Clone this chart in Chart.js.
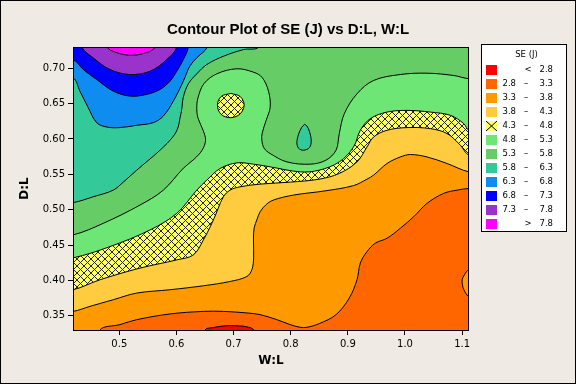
<!DOCTYPE html>
<html>
<head>
<meta charset="utf-8">
<script src="https://cdn.jsdelivr.net/npm/chart.js@4.4.1/dist/chart.umd.min.js"></script>
<style>
    body { margin: 0; background: #efebe4; }
    canvas { display: block; }
</style>
</head>
<body>
<canvas id="chart" width="576" height="384"></canvas>
<script>
// axis limits and ticks
const xMin = 0.419, xMax = 1.112
const yMin = 0.33, yMax = 0.73
const xTicks = [0.5, 0.6, 0.7, 0.8, 0.9, 1.0, 1.1]
const yTicks = [0.35, 0.40, 0.45, 0.50, 0.55, 0.60, 0.65, 0.70]

// contour levels, bands low -> high (legend order)
const levels = [2.8, 3.3, 3.8, 4.3, 4.8, 5.3, 5.8, 6.3, 6.8, 7.3, 7.8]
const bandColors = ['#ff0000', '#ff6600', '#ff9900', '#ffcc40', 'hatch', '#6ee675',
    '#66cc66', '#33c999', '#0e8cf0', '#0000ff', '#9933cc', '#ff00ff']
const legendTitle = 'SE (J)'

// contour lines, [W:L, D:L]
const line28 = [[0.650, 0.330], [0.665, 0.3335], [0.680, 0.3355], [0.694, 0.3362], [0.710, 0.3358], [0.723, 0.3345], [0.735, 0.330]]
const line33 = [[0.466, 0.330], [0.501, 0.3376], [0.5305, 0.3446], [0.5888, 0.3527], [0.6472, 0.3563], [0.6822, 0.3563],
    [0.7232, 0.3541], [0.7465, 0.3517], [0.7758, 0.3446], [0.7991, 0.3376], [0.8166, 0.3338], [0.8284, 0.3338],
    [0.8499, 0.339], [0.8793, 0.3517], [0.9025, 0.3752], [0.916, 0.401], [0.9218, 0.4245], [0.9335, 0.4408],
    [0.948, 0.4527], [0.9685, 0.4597], [0.9918, 0.4738], [1.0152, 0.4901], [1.0386, 0.509], [1.0677, 0.5231],
    [1.0912, 0.5277], [1.112, 0.5301]]
const line33b = [[1.112, 0.4151], [1.104, 0.408], [1.1, 0.401], [1.1005, 0.394], [1.103, 0.3869], [1.112, 0.3775]]
const line38 = [[0.419, 0.3563], [0.4487, 0.3634], [0.4895, 0.3728], [0.5305, 0.3822], [0.5888, 0.3869], [0.6472, 0.3925],
    [0.694, 0.3986], [0.7232, 0.4056], [0.732, 0.4151], [0.7351, 0.432], [0.7348, 0.4573], [0.736, 0.4742],
    [0.7413, 0.4869], [0.7465, 0.4972], [0.757, 0.5073], [0.7698, 0.5137], [0.8049, 0.5207], [0.8616, 0.5268],
    [0.91, 0.5341], [0.9335, 0.5432], [0.9451, 0.5489], [0.9685, 0.5653], [0.9918, 0.5746], [1.0094, 0.578],
    [1.0386, 0.5746], [1.0737, 0.5653], [1.112, 0.5535]]
const line43 = [[0.419, 0.3869], [0.4662, 0.401], [0.5363, 0.4175], [0.6006, 0.4291], [0.6297, 0.4362], [0.6472, 0.4573],
    [0.6647, 0.4855], [0.6822, 0.5183], [0.694, 0.5277], [0.7115, 0.5324], [0.7465, 0.5362], [0.7991, 0.539],
    [0.8499, 0.5432], [0.885, 0.5513], [0.916, 0.5676], [0.9335, 0.5887], [0.9451, 0.6028], [0.9685, 0.6123],
    [1.0036, 0.6161], [1.0444, 0.6146], [1.0737, 0.6076], [1.097, 0.5911], [1.112, 0.577]]
const line43b = [[0.6952, 0.6644], [0.7115, 0.6601], [0.7185, 0.6479], [0.7115, 0.6355], [0.6952, 0.6301],
    [0.6782, 0.6348], [0.6717, 0.6479], [0.6782, 0.6601], [0.6952, 0.6644]]
const line48 = [[0.419, 0.432], [0.4837, 0.4479], [0.5538, 0.4714], [0.6006, 0.4949], [0.6356, 0.5277], [0.6531, 0.5418],
    [0.6764, 0.5583], [0.7057, 0.5662], [0.7348, 0.5644], [0.7641, 0.5606], [0.8166, 0.5535], [0.8499, 0.5559],
    [0.885, 0.5676], [0.91, 0.5887], [0.9218, 0.6123], [0.9393, 0.6287], [0.9685, 0.638], [1.0036, 0.6404],
    [1.0444, 0.638], [1.0795, 0.6334], [1.1028, 0.6217], [1.112, 0.6123]]
const line53 = [[0.419, 0.4644], [0.472, 0.4808], [0.5363, 0.5066], [0.5771, 0.5277], [0.6121, 0.5587], [0.6309, 0.5714],
    [0.6449, 0.5841], [0.651, 0.5982], [0.6467, 0.6123], [0.6379, 0.6292], [0.6356, 0.6432], [0.6379, 0.6587],
    [0.6484, 0.6784], [0.6707, 0.6921], [0.7057, 0.6992], [0.7348, 0.6944], [0.75, 0.6869], [0.7611, 0.6676],
    [0.7641, 0.6451], [0.757, 0.6263], [0.75, 0.608], [0.7495, 0.5982], [0.7535, 0.5869], [0.7641, 0.5794],
    [0.7933, 0.5676], [0.8341, 0.5644], [0.8616, 0.57], [0.8793, 0.5841], [0.885, 0.6076], [0.8938, 0.6358],
    [0.916, 0.6639], [0.9451, 0.6827], [0.9918, 0.6911], [1.0386, 0.693], [1.0853, 0.6897], [1.112, 0.6851]]
const line58 = [[0.419, 0.5101], [0.4544, 0.5183], [0.4895, 0.5277], [0.507, 0.539], [0.5305, 0.5559], [0.5713, 0.5841],
    [0.5946, 0.6038], [0.6029, 0.6165], [0.6064, 0.6301], [0.6093, 0.642], [0.6121, 0.6592], [0.6209, 0.678],
    [0.6356, 0.6921], [0.6531, 0.7052], [0.6822, 0.7169], [0.7173, 0.7263], [0.7436, 0.73]]
const line58b = [[0.8242, 0.6207], [0.8284, 0.6183], [0.8329, 0.6104], [0.8359, 0.5972], [0.8329, 0.5879], [0.8224, 0.5841],
    [0.8137, 0.5869], [0.8108, 0.5949], [0.8137, 0.6066], [0.8193, 0.6165], [0.8242, 0.6207]]
const line63 = [[0.419, 0.6865], [0.4311, 0.6676], [0.4457, 0.6442], [0.4604, 0.6231], [0.4779, 0.6169], [0.5012, 0.6161],
    [0.5305, 0.6193], [0.5596, 0.6231], [0.5771, 0.6324], [0.5946, 0.6535], [0.6121, 0.6817], [0.6239, 0.7035],
    [0.6361, 0.7151], [0.6537, 0.73]]
const line68 = [[0.419, 0.7123], [0.4369, 0.6982], [0.4604, 0.6841], [0.4895, 0.6676], [0.5187, 0.6606], [0.548, 0.663],
    [0.5713, 0.67], [0.5888, 0.6817], [0.6006, 0.6958], [0.6121, 0.7123], [0.6209, 0.73]]
const line73 = [[0.435, 0.73], [0.4544, 0.7146], [0.4837, 0.6982], [0.5187, 0.6911], [0.5538, 0.6958], [0.5831, 0.7123], [0.6006, 0.73]]
const line78 = [[0.479, 0.73], [0.4925, 0.7228], [0.5187, 0.7183], [0.545, 0.7214], [0.5626, 0.73]]

// crosshatch fill for the 4.3 - 4.8 band
function makeHatch(ctx) {
    const c = document.createElement('canvas')
    c.width = 7
    c.height = 7
    const g = c.getContext('2d')
    g.fillStyle = '#ffff66'
    g.fillRect(0, 0, 7, 7)
    g.fillStyle = '#222'
    for (let i = 0; i < 7; i++) {
        g.fillRect(i, i, 1, 1)
        g.fillRect(6 - i, i, 1, 1)
    }
    return ctx.createPattern(c, 'repeat')
}

const canvas = document.getElementById('chart')
const hatch = makeHatch(canvas.getContext('2d'))
const colors = bandColors.map(c => c === 'hatch' ? hatch : c)

// polygons are closed outside the plot area so only the contour part shows
const pad = 0.03
const corner = {
    bl: {x: xMin - pad, y: yMin - pad}, br: {x: xMax + pad, y: yMin - pad},
    tr: {x: xMax + pad, y: yMax + pad}, tl: {x: xMin - pad, y: yMax + pad}
}
function toPts(line) {
    return line.map(p => ({x: p[0], y: p[1]}))
}
function outside(p, side) {
    if (side === 'left') return {x: xMin - pad, y: p[1]}
    if (side === 'right') return {x: xMax + pad, y: p[1]}
    if (side === 'top') return {x: p[0], y: yMax + pad}
    return {x: p[0], y: yMin - pad}
}
function region(line, from, to, corners) {
    return [outside(line[0], from), ...toPts(line), outside(line[line.length - 1], to), ...corners.map(c => corner[c])]
}

// painted bottom to top
const layers = [
    {data: [corner.bl, corner.br, corner.tr, corner.tl], color: colors[1], tension: 0},
    {data: region(line28, 'bottom', 'bottom', []), color: colors[0]},
    {data: region(line33, 'bottom', 'right', ['tr', 'tl', 'bl']), color: colors[2]},
    {data: region(line33b, 'right', 'right', []), color: colors[2]},
    {data: region(line38, 'left', 'right', ['tr', 'tl']), color: colors[3]},
    {data: region(line43, 'left', 'right', ['tr', 'tl']), color: colors[4]},
    {data: region(line48, 'left', 'right', ['tr', 'tl']), color: colors[5]},
    {data: toPts(line43b), color: colors[4]},
    {data: region(line53, 'left', 'right', ['tr', 'tl']), color: colors[6]},
    {data: region(line58, 'left', 'top', ['tl']), color: colors[7]},
    {data: toPts(line58b), color: colors[7]},
    {data: region(line63, 'left', 'top', ['tl']), color: colors[8]},
    {data: region(line68, 'left', 'top', ['tl']), color: colors[9]},
    {data: region(line73, 'top', 'top', []), color: colors[10]},
    {data: region(line78, 'top', 'top', []), color: colors[11]}
]

const datasets = layers.map((l, i) => ({
    data: l.data,
    backgroundColor: l.color,
    borderColor: '#000',
    borderWidth: 1,
    fill: 'shape',
    tension: l.tension === undefined ? 0.35 : l.tension,
    pointRadius: 0,
    pointHoverRadius: 0,
    clip: 0,
    order: layers.length - i,
    yAxisID: 'y'
}))

const framePlugin = {
    id: 'frame',
    beforeDraw(chart) {
        const ctx = chart.ctx
        ctx.save()
        ctx.fillStyle = '#efebe4'
        ctx.fillRect(0, 0, chart.width, chart.height)
        ctx.strokeStyle = '#000'
        ctx.lineWidth = 1
        ctx.strokeRect(0.5, 0.5, chart.width - 1, chart.height - 1)
        ctx.restore()
    },
    afterDatasetsDraw(chart) {
        const a = chart.chartArea
        const ctx = chart.ctx
        ctx.save()
        ctx.strokeStyle = '#000'
        ctx.lineWidth = 1
        ctx.strokeRect(a.left + 0.5, a.top + 0.5, a.right - a.left - 1, a.bottom - a.top)
        ctx.restore()
    }
}

const legendPlugin = {
    id: 'bandLegend',
    afterDraw(chart) {
        const ctx = chart.ctx
        ctx.save()
        ctx.fillStyle = '#fff'
        ctx.fillRect(482, 45, 85, 186)
        ctx.strokeStyle = '#000'
        ctx.lineWidth = 1
        ctx.strokeRect(481.5, 44.5, 85, 187)
        ctx.fillStyle = '#000'
        ctx.font = '8.5px "DejaVu Sans"'
        ctx.textBaseline = 'middle'
        ctx.textAlign = 'center'
        ctx.fillText(legendTitle, 526.5, 55)
        const last = bandColors.length - 1
        bandColors.forEach((c, i) => {
            const y = Math.round(69.5 + i * 14.05)
            if (c === 'hatch') {
                ctx.fillStyle = '#ffff66'
                ctx.fillRect(486, y - 5, 11, 10)
                ctx.beginPath()
                ctx.moveTo(486, y - 5)
                ctx.lineTo(497, y + 5)
                ctx.moveTo(497, y - 5)
                ctx.lineTo(486, y + 5)
                ctx.strokeStyle = '#000'
                ctx.stroke()
            } else {
                ctx.fillStyle = c
                ctx.fillRect(486, y - 5, 11, 10)
            }
            ctx.fillStyle = '#000'
            if (i === 0 || i === last) {
                ctx.textAlign = 'center'
                ctx.fillText(i === 0 ? '<' : '>', 528, y)
                ctx.textAlign = 'right'
                ctx.fillText((i === 0 ? levels[0] : levels[levels.length - 1]).toFixed(1), 553, y)
            } else {
                ctx.textAlign = 'right'
                ctx.fillText(levels[i - 1].toFixed(1), 516, y)
                ctx.fillText(levels[i].toFixed(1), 553, y)
                ctx.textAlign = 'center'
                ctx.fillText('–', 526, y)
            }
        })
        ctx.restore()
    }
}

const tickFont = {family: 'DejaVu Sans', size: 10}
const titleFont = {family: 'DejaVu Sans', size: 12, weight: 'bold'}

const config = {
    type: 'line',
    data: {datasets: datasets},
    options: {
        responsive: false,
        animation: false,
        devicePixelRatio: 1,
        events: [],
        layout: {padding: 0},
        plugins: {
            legend: {display: false},
            tooltip: {enabled: false},
            title: {
                display: true,
                text: 'Contour Plot of SE (J) vs D:L, W:L',
                color: '#000',
                font: {family: 'Liberation Sans', size: 15, weight: 'bold'},
                padding: {top: 21, bottom: 8}
            }
        },
        scales: {
            x: {
                type: 'linear',
                position: 'bottom',
                min: xMin,
                max: xMax,
                afterBuildTicks: s => { s.ticks = xTicks.map(v => ({value: v})) },
                afterFit: s => { s.height = 54 },
                ticks: {callback: v => v.toFixed(1), color: '#000', font: tickFont, padding: 3, maxRotation: 0, autoSkip: false},
                grid: {drawOnChartArea: false, drawTicks: true, tickLength: 5, color: '#000'},
                border: {display: false},
                title: {display: true, text: 'W:L', color: '#000', font: titleFont, padding: {top: 0, bottom: 16}}
            },
            y: {
                type: 'linear',
                position: 'left',
                min: yMin,
                max: yMax,
                afterBuildTicks: s => { s.ticks = yTicks.map(v => ({value: v})) },
                afterFit: s => { s.width = 73 },
                ticks: {callback: v => v.toFixed(2), color: '#000', font: tickFont, padding: 3, autoSkip: false},
                grid: {drawOnChartArea: false, drawTicks: true, tickLength: 5, color: '#000'},
                border: {display: false},
                title: {display: true, text: 'D:L', color: '#000', font: titleFont, padding: {top: 18, bottom: 0}}
            },
            y2: {
                type: 'linear',
                position: 'right',
                afterFit: s => { s.width = 107 },
                ticks: {display: false},
                grid: {display: false},
                border: {display: false}
            }
        }
    },
    plugins: [framePlugin, legendPlugin]
}

let myChart = new Chart(canvas, config)
</script>
</body>
</html>
